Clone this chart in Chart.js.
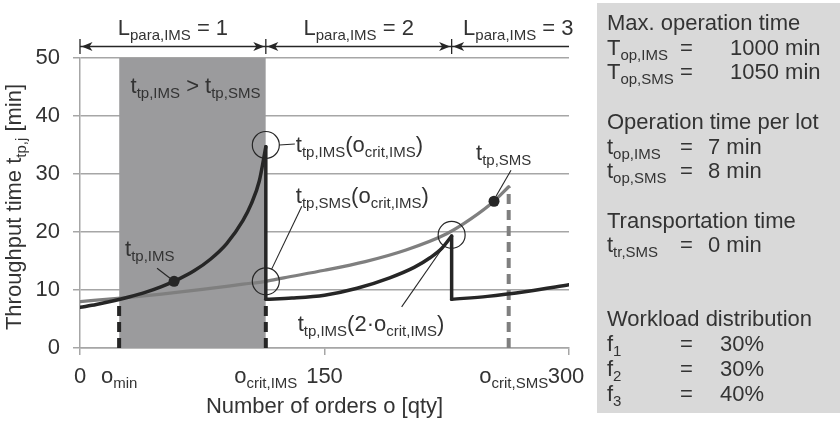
<!DOCTYPE html>
<html>
<head>
<meta charset="utf-8">
<script src="https://cdn.jsdelivr.net/npm/chart.js@4.4.1/dist/chart.umd.min.js"></script>
<style>
  html, body { margin: 0; padding: 0; background: #fff; }
</style>
</head>
<body>
<canvas id="chart" width="840" height="425"></canvas>
<script>
// throughput time of the IMS, one curve per number of parallel lines
const imsOrders1 = [0, 10, 20, 30, 40, 50, 60, 70, 80, 90, 100, 105, 110, 114];
const imsTime1 = [7.0, 7.5, 8.1, 8.8, 9.6, 10.6, 11.8, 13.3, 15.3, 18.0, 22.0, 24.8, 28.8, 34.7];
const imsOrders2 = [114, 130, 150, 170, 190, 205, 215, 222, 228];
const imsTime2 = [8.4, 8.6, 9.1, 10.3, 12.1, 13.9, 15.6, 17.2, 19.3];
const imsOrders3 = [228, 250, 275, 300];
const imsTime3 = [8.4, 8.9, 9.8, 10.9];

// throughput time of the SMS
const smsOrders = [0, 25, 50, 75, 100, 114, 125, 150, 175, 200, 225, 240, 254, 263];
const smsTime = [8.0, 8.6, 9.3, 10.1, 11.0, 11.5, 12.1, 13.4, 14.9, 16.9, 19.7, 22.3, 25.3, 27.8];

// characteristic order quantities
const oMin = 24;
const oCritIms = 114;
const oCritSms = 263;
const paraBounds = [0, 114, 228, 300];
const paraLabels = ['L_{para,IMS} = 1', 'L_{para,IMS} = 2', 'L_{para,IMS} = 3'];

// highlighted points
const circleOrders = [114, 114, 228];
const circleTimes = [35, 11.5, 19.5];
const imsDot = { x: 57.7, y: 11.5 };
const smsDot = { x: 254, y: 25.3 };

const xTickValues = [0, 24, 114, 150, 263, 300];
const xTickLabels = ['0', 'o_{min}', 'o_{crit,IMS}', '150', 'o_{crit,SMS}', '300'];

const panelLines = [
  ['Max. operation time'],
  ['T_{op,IMS}', '=', '1000 min'],
  ['T_{op,SMS}', '=', '1050 min'],
  null,
  ['Operation time per lot'],
  ['t_{op,IMS}', '=', '7 min'],
  ['t_{op,SMS}', '=', '8 min'],
  null,
  ['Transportation time'],
  ['t_{tr,SMS}', '=', '0 min'],
  null,
  null,
  ['Workload distribution'],
  ['f_{1}', '=', '30%'],
  ['f_{2}', '=', '30%'],
  ['f_{3}', '=', '40%']
];

const INK = '#262626';
const TEXT = '#333333';
const SMS_GREY = '#7f7f7f';
const GRID = '#a6a6a6';
const FONT = '"Liberation Sans", Arial, sans-serif';

const zip = (xs, ys) => xs.map((x, i) => ({ x, y: ys[i] }));

// text with t_{sub} style subscripts
function drawRich(ctx, str, x, y, align, size) {
  const parts = [];
  const re = /_\{([^}]*)\}/g;
  let last = 0, m;
  while ((m = re.exec(str))) {
    if (m.index > last) parts.push([str.slice(last, m.index), false]);
    parts.push([m[1], true]);
    last = re.lastIndex;
  }
  if (last < str.length) parts.push([str.slice(last), false]);
  const main = size || 22;
  const sub = Math.round(main * 0.68);
  const fontOf = s => (s ? sub : main) + 'px ' + FONT;
  let w = 0;
  parts.forEach(p => { ctx.font = fontOf(p[1]); w += ctx.measureText(p[0]).width; });
  let cx = align === 'center' ? x - w / 2 : align === 'right' ? x - w : x;
  ctx.textAlign = 'left';
  ctx.textBaseline = 'alphabetic';
  parts.forEach(p => {
    ctx.font = fontOf(p[1]);
    ctx.fillText(p[0], cx, y + (p[1] ? 5 : 0));
    cx += ctx.measureText(p[0]).width;
  });
  return w;
}

function arrowHead(ctx, x, y, dir) {
  ctx.beginPath();
  ctx.moveTo(x, y);
  ctx.lineTo(x - dir * 11, y - 4.5);
  ctx.lineTo(x - dir * 8, y);
  ctx.lineTo(x - dir * 11, y + 4.5);
  ctx.closePath();
  ctx.fill();
}

function line(ctx, x1, y1, x2, y2) {
  ctx.beginPath();
  ctx.moveTo(x1, y1);
  ctx.lineTo(x2, y2);
  ctx.stroke();
}

const annotations = {
  id: 'annotations',
  afterDraw(chart) {
    const { ctx } = chart;
    const xs = chart.scales.x, ys = chart.scales.y;
    const px = v => xs.getPixelForValue(v);
    const py = v => ys.getPixelForValue(v);
    ctx.save();
    ctx.fillStyle = TEXT;
    ctx.strokeStyle = INK;

    // x tick labels and axis titles
    const tickShift = [0, 0, 0, 0, 5, -3];
    xTickValues.forEach((v, i) => drawRich(ctx, xTickLabels[i], px(v) + tickShift[i], 383, 'center'));
    drawRich(ctx, 'Number of orders o [qty]', (xs.left + xs.right) / 2, 413, 'center');
    ctx.save();
    ctx.translate(21, 207);
    ctx.rotate(-Math.PI / 2);
    drawRich(ctx, 'Throughput time t_{tp,j} [min]', 0, 0, 'center');
    ctx.restore();

    // parallel line ranges
    const ay = 46.5;
    ctx.lineWidth = 1.3;
    ctx.fillStyle = INK;
    for (let i = 0; i < paraLabels.length; i++) {
      const a = px(paraBounds[i]), b = px(paraBounds[i + 1]);
      line(ctx, a, ay, b, ay);
      line(ctx, a, ay - 7.5, a, ay + 7.5);
      arrowHead(ctx, a + 1.5, ay, -1);
      if (i < paraLabels.length - 1) arrowHead(ctx, b - 1.5, ay, 1);
    }
    ctx.fillStyle = TEXT;
    const labelShift = [0, 0, 8];
    for (let i = 0; i < paraLabels.length; i++) {
      const mid = (px(paraBounds[i]) + px(paraBounds[i + 1])) / 2 + labelShift[i];
      drawRich(ctx, paraLabels[i], mid, 35, 'center');
    }

    drawRich(ctx, 't_{tp,IMS} > t_{tp,SMS}', (px(oMin) + px(oCritIms)) / 2 + 3, 93, 'center');

    // leader lines and labels
    ctx.lineWidth = 1.1;
    const r = 13.5;
    const c1 = { x: px(circleOrders[0]), y: py(circleTimes[0]) };
    const c2 = { x: px(circleOrders[1]), y: py(circleTimes[1]) };
    const c3 = { x: px(circleOrders[2]), y: py(circleTimes[2]) };
    const d1 = { x: px(imsDot.x), y: py(imsDot.y) };
    const d2 = { x: px(smsDot.x), y: py(smsDot.y) };

    line(ctx, c1.x + r, c1.y, c1.x + 29, c1.y - 1);
    drawRich(ctx, 't_{tp,IMS}(o_{crit,IMS})', c1.x + 30, c1.y + 7, 'left');

    const e2 = { x: c2.x + 36, y: c2.y - 75 };
    const k2 = Math.hypot(e2.x - c2.x, e2.y - c2.y);
    line(ctx, c2.x + (e2.x - c2.x) * r / k2, c2.y + (e2.y - c2.y) * r / k2, e2.x, e2.y);
    drawRich(ctx, 't_{tp,SMS}(o_{crit,IMS})', c2.x + 30, c2.y - 78, 'left');

    const e3 = { x: c3.x - 50, y: c3.y + 72 };
    const k3 = Math.hypot(e3.x - c3.x, e3.y - c3.y);
    line(ctx, c3.x + (e3.x - c3.x) * r / k3, c3.y + (e3.y - c3.y) * r / k3, e3.x, e3.y);
    drawRich(ctx, 't_{tp,IMS}(2·o_{crit,IMS})', c3.x - 154, c3.y + 96, 'left');

    line(ctx, d1.x - 17, d1.y - 13, d1.x - 4, d1.y - 3);
    drawRich(ctx, 't_{tp,IMS}', d1.x - 49, d1.y - 25, 'left');

    line(ctx, d2.x + 2, d2.y - 5, d2.x + 17, d2.y - 31);
    drawRich(ctx, 't_{tp,SMS}', d2.x - 18, d2.y - 41, 'left');

    // parameter panel
    ctx.fillStyle = '#d9d9d9';
    ctx.fillRect(597, 3, 243, 410);
    ctx.fillStyle = TEXT;
    panelLines.forEach((row, i) => {
      if (!row) return;
      const yy = 30 + 24.7 * i;
      drawRich(ctx, row[0], 607, yy, 'left');
      if (row.length > 1) {
        drawRich(ctx, row[1], 680, yy, 'left');
        const vx = row[2].length > 5 ? 730 : row[2].endsWith('%') ? 720 : 708;
        drawRich(ctx, row[2], vx, yy, 'left');
      }
    });
    ctx.restore();
  }
};

Chart.defaults.font.family = FONT;
Chart.defaults.color = TEXT;

const lineStyle = (data, color, width, order) => ({
  data, borderColor: color, borderWidth: width, pointRadius: 0,
  cubicInterpolationMode: 'monotone', borderCapStyle: 'round', borderJoinStyle: 'round',
  fill: false, order
});
const dashStyle = (x, top, color) => ({
  data: [{ x, y: 0 }, { x, y: top }], borderColor: color, borderWidth: 4,
  borderDash: [10, 6], pointRadius: 0, fill: false, order: 3
});

new Chart(document.getElementById('chart'), {
  type: 'line',
  data: {
    datasets: [
      {
        data: zip(circleOrders, circleTimes), showLine: false, pointRadius: 13.5,
        pointBorderWidth: 1.2, pointBorderColor: INK, pointBackgroundColor: 'rgba(0,0,0,0)', order: 0
      },
      {
        data: [imsDot, smsDot], showLine: false, pointRadius: 5.5,
        pointBorderWidth: 0, pointBackgroundColor: INK, order: 1
      },
      lineStyle(zip(imsOrders1, imsTime1), INK, 3.5, 2),
      lineStyle([{ x: oCritIms, y: imsTime1[imsTime1.length - 1] }, { x: oCritIms, y: imsTime2[0] }], INK, 3.5, 2),
      lineStyle(zip(imsOrders2, imsTime2), INK, 3.5, 2),
      lineStyle([{ x: 228, y: imsTime2[imsTime2.length - 1] }, { x: 228, y: imsTime3[0] }], INK, 3.5, 2),
      lineStyle(zip(imsOrders3, imsTime3), INK, 3.5, 2),
      dashStyle(oMin, imsTime1[3] - 0.3, INK),
      dashStyle(oCritIms, imsTime2[0], INK),
      dashStyle(oCritSms, smsTime[smsTime.length - 1], SMS_GREY),
      lineStyle(zip(smsOrders, smsTime), SMS_GREY, 3.2, 4),
      {
        data: [{ x: oMin, y: 50 }, { x: oCritIms, y: 50 }], borderWidth: 0, pointRadius: 0,
        backgroundColor: '#9b9b9d', fill: 'origin', order: 9
      }
    ]
  },
  options: {
    responsive: false,
    animation: false,
    layout: { padding: { left: 0, right: 271, top: 58, bottom: 0 } },
    plugins: { legend: { display: false }, tooltip: { enabled: false } },
    scales: {
      x: {
        type: 'linear', min: 0, max: 300,
        ticks: { display: false, stepSize: 150 },
        grid: { drawOnChartArea: false, drawTicks: true, tickLength: 7, color: GRID, lineWidth: 1.5 },
        border: { display: true, color: GRID, width: 1.5 },
        afterFit: s => { s.height = 77; }
      },
      y: {
        min: 0, max: 50,
        ticks: { stepSize: 10, color: TEXT, font: { size: 22 }, padding: 13 },
        grid: { color: GRID, lineWidth: 1.5, tickLength: 7 },
        border: { display: true, color: GRID, width: 1.5 },
        afterFit: s => { s.width = 80; }
      }
    }
  },
  plugins: [annotations]
});
</script>
</body>
</html>
